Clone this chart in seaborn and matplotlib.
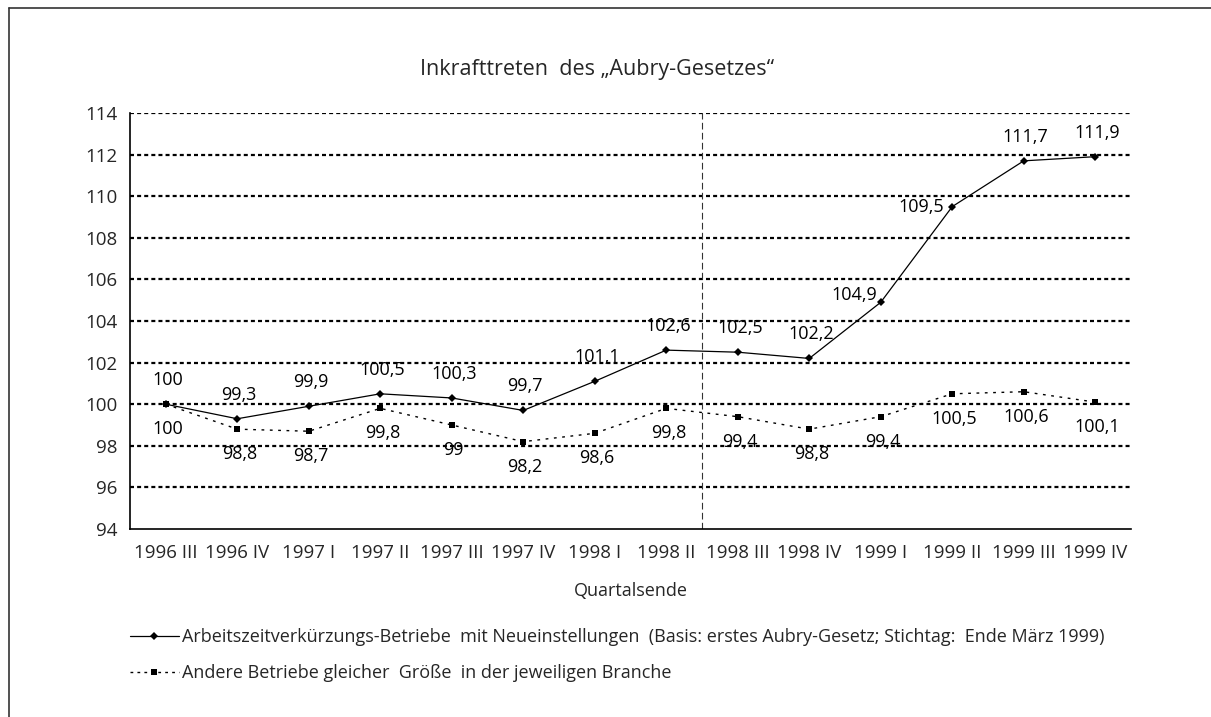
import matplotlib
matplotlib.use('Agg')
import matplotlib.pyplot as plt
import seaborn as sns
import pandas as pd
from matplotlib.lines import Line2D

quarters = ['1996 III', '1996 IV', '1997 I', '1997 II', '1997 III', '1997 IV', '1998 I',
            '1998 II', '1998 III', '1998 IV', '1999 I', '1999 II', '1999 III', '1999 IV']
azv_values = [100, 99.3, 99.9, 100.5, 100.3, 99.7, 101.1, 102.6, 102.5, 102.2, 104.9, 109.5, 111.7, 111.9]
other_values = [100, 98.8, 98.7, 99.8, 99, 98.2, 98.6, 99.8, 99.4, 98.8, 99.4, 100.5, 100.6, 100.1]
azv_label = 'Arbeitszeitverkürzungs-Betriebe  mit Neueinstellungen  (Basis: erstes Aubry-Gesetz; Stichtag:  Ende März 1999)'
other_label = 'Andere Betriebe gleicher  Größe  in der jeweiligen Branche'
law_position = 7.5  # between 1998 II and 1998 III

sns.set_style('white')
plt.rcParams['font.family'] = ['Open Sans', 'DejaVu Sans']

df = pd.DataFrame({'idx': range(len(quarters)), 'quarter': quarters,
                   'azv': azv_values, 'other': other_values})

fig = plt.figure(figsize=(12.11, 7.17), dpi=100)
ax = fig.add_axes([130 / 1211, 1 - 529 / 717, 1001 / 1211, 416 / 717])

grid_style = dict(color='black', lw=1.6, linestyle=(0, (1.8, 1.4)), zorder=1)
for y in range(96, 115, 2):
    ax.axhline(y, **grid_style)
ax.axvline(law_position, color='#333333', lw=0.8, linestyle=(0, (6, 3)), zorder=1)

sns.lineplot(data=df, x='idx', y='other', ax=ax, color='black', lw=1.0,
             linestyle=(0, (2, 4)), marker='s', markersize=4.5, markeredgewidth=0,
             zorder=3)
sns.lineplot(data=df, x='idx', y='azv', ax=ax, color='black', lw=0.9,
             marker='D', markersize=4.5, markeredgewidth=0, zorder=4)

lbl = dict(fontsize=13, color='black', textcoords='offset pixels', va='center')
for i, v in enumerate(azv_values):
    txt = f'{v:g}'.replace('.', ',')
    if i == 10:
        ax.annotate(txt, (i, v), xytext=(-4, 7), ha='right', **lbl)
    elif i == 11:
        ax.annotate(txt, (i, v), xytext=(-8, 0), ha='right', **lbl)
    else:
        ax.annotate(txt, (i, v), xytext=(2, 24), ha='center', **lbl)
for i, v in enumerate(other_values):
    txt = f'{v:g}'.replace('.', ',')
    ax.annotate(txt, (i, v), xytext=(2, -25), ha='center', **lbl)

ax.set_xlim(-0.5, len(quarters) - 0.5)
ax.set_ylim(94, 114)
ax.set_yticks(range(94, 115, 2))
ax.set_xticks([i - 0.5 for i in range(len(quarters) + 1)])
ax.set_xticklabels([])
ax.set_xticks(range(len(quarters)), minor=True)
ax.set_xticklabels(quarters, minor=True)
ax.tick_params(axis='x', which='major', direction='out', length=6, width=1, color='black')
ax.tick_params(axis='x', which='minor', length=0, pad=11, labelsize=13.5)
ax.tick_params(axis='y', direction='out', length=5, width=1, color='black', labelsize=13.5, pad=4)
ax.set_xlabel('Quartalsende', fontsize=13, labelpad=14)
ax.set_ylabel('')
for s in ['top', 'right']:
    ax.spines[s].set_visible(False)
for s in ['left', 'bottom']:
    ax.spines[s].set_color('black')
    ax.spines[s].set_linewidth(1.2)

fig.text(597 / 1211, 1 - 70 / 717, 'Inkrafttreten  des „Aubry-Gesetzes“', fontsize=15.5,
         ha='center', va='center')

handles = [
    Line2D([], [], color='black', lw=0.9, marker='D', markersize=4, markeredgewidth=0),
    Line2D([], [], color='black', lw=1.0, linestyle=(0, (2, 3)), marker='s',
           markersize=4, markeredgewidth=0),
]
fig.legend(handles, [azv_label, other_label], loc='upper left',
           bbox_to_anchor=(121 / 1211, 1 - 619 / 717), frameon=False, fontsize=13,
           handlelength=2.7, handletextpad=0.2, labelspacing=1.0, borderpad=0)

fig.add_artist(Line2D([9 / 1211, 9 / 1211], [0, 1 - 8 / 717], color='#333333', lw=1.2))
fig.add_artist(Line2D([9 / 1211, 1], [1 - 8 / 717, 1 - 8 / 717], color='#333333', lw=1.2))

fig.savefig('out.png', dpi=100)
plt.close(fig)
